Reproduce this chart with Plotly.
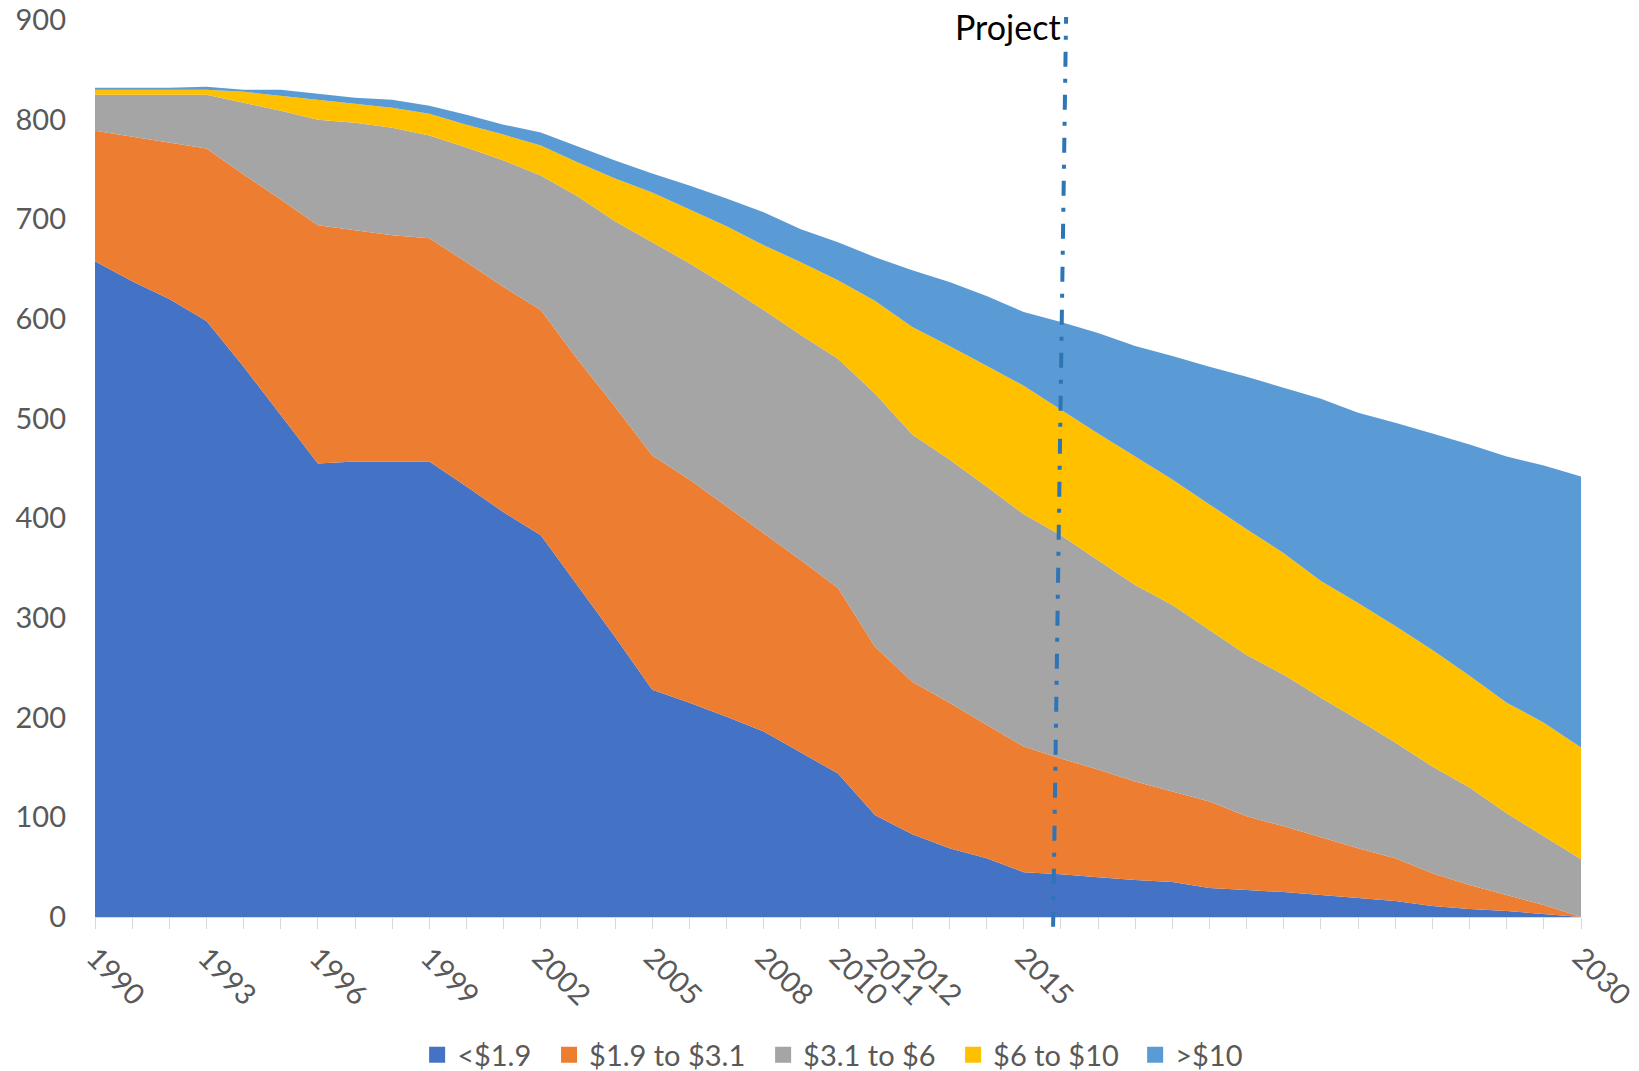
import plotly.graph_objects as go

years = [1990, 1991, 1992, 1993, 1994, 1995, 1996, 1997, 1998, 1999,
         2000, 2001, 2002, 2003, 2004, 2005, 2006, 2007, 2008, 2009,
         2010, 2011, 2012, 2013, 2014, 2015, 2016, 2017, 2018, 2019,
         2020, 2021, 2022, 2023, 2024, 2025, 2026, 2027, 2028, 2029, 2030]

tick_labels = ["1990", "", "", "1993", "", "", "1996", "", "", "1999",
               "", "", "2002", "", "", "2005", "", "", "2008", "",
               "2010", "2011", "2012", "", "", "2015", "", "", "", "",
               "", "", "", "", "", "", "", "", "", "", "2030"]

series_names = ["<$1.9", "$1.9 to $3.1", "$3.1 to $6", "$6 to $10", ">$10"]

below_1_9 = [658, 638, 620, 598, 552, 504, 455, 457, 457, 457,
             432, 406, 383, 332, 281, 228, 215, 201, 186, 165,
             144, 102, 83, 69, 59, 45, 43, 40, 37, 35,
             29, 27, 25, 22, 19, 16, 11, 8, 6, 3, 0]

from_1_9_to_3_1 = [131, 145, 157, 173, 193, 216, 239, 232, 227, 224,
                   225, 226, 226, 227, 231, 235, 224, 211, 199, 193,
                   186, 169, 153, 146, 134, 126, 116, 108, 99, 91,
                   87, 74, 66, 58, 50, 43, 33, 24, 16, 9, 0]

from_3_1_to_6 = [36, 42, 48, 54, 72, 89, 106, 108, 108, 103,
                 115, 127, 135, 164, 186, 214, 217, 221, 224, 226,
                 230, 254, 248, 244, 239, 233, 224, 210, 197, 187,
                 172, 162, 152, 140, 129, 116, 107, 98, 82, 69, 58]

from_6_to_10 = [5, 5, 5, 5, 11, 15, 20, 19, 20, 22,
                23, 26, 30, 34, 43, 50, 54, 60, 65, 73,
                79, 93, 108, 114, 121, 129, 126, 127, 129, 126,
                126, 126, 122, 117, 117, 117, 117, 112, 111, 114, 112]

above_10 = [2, 2, 2, 3, 2, 6, 6, 6, 8, 8,
            10, 10, 13, 16, 18, 19, 24, 28, 33, 33,
            38, 44, 57, 64, 70, 74, 88, 101, 111, 124,
            138, 153, 166, 183, 191, 204, 217, 232, 247, 258, 272]

colors = ["#4472C4", "#ED7D31", "#A5A5A5", "#FFC000", "#5B9BD5"]

y_ticks = [0, 100, 200, 300, 400, 500, 600, 700, 800, 900]

project_label = "Project"
project_year_bottom = 2015.79
project_year_top = 2016.14

# horizontal anchor (container fraction) for each legend entry
legend_x = [0.2545, 0.3350, 0.4656, 0.5815, 0.6926]

FONT = "Lato, 'Open Sans', sans-serif"
GREY_TXT = "#595959"

fig = go.Figure()

all_series = [below_1_9, from_1_9_to_3_1, from_3_1_to_6, from_6_to_10, above_10]
for name, vals, col in zip(series_names, all_series, colors):
    fig.add_trace(go.Scatter(
        x=years, y=vals, name=name, mode="lines",
        stackgroup="one", line=dict(width=0, color=col),
        fillcolor=col, showlegend=False, hoverinfo="x+y+name",
    ))

legend_ids = ["legend", "legend2", "legend3", "legend4", "legend5"]
for name, col, lid in zip(series_names, colors, legend_ids):
    fig.add_trace(go.Scatter(
        x=[None], y=[None], name=name, mode="markers",
        marker=dict(symbol="square", size=17, color=col),
        showlegend=True, legend=lid,
    ))

fig.add_shape(
    type="line", xref="x", yref="paper",
    x0=project_year_bottom, x1=project_year_top, y0=-0.0108, y1=1.0033,
    line=dict(color="#2E75B6", width=4, dash="15px,12px,4px,12px"),
    layer="above",
)

fig.add_annotation(
    x=project_year_top, y=893, xref="x", yref="y",
    text=project_label, showarrow=False,
    xanchor="right", yanchor="middle", xshift=-3,
    font=dict(family=FONT, size=34, color="#000000"),
)

legend_common = dict(
    orientation="h", xref="container", yref="container",
    xanchor="left", y=0.015, yanchor="middle",
    font=dict(family=FONT, size=29, color=GREY_TXT),
    itemclick=False, itemdoubleclick=False,
    bgcolor="rgba(0,0,0,0)", borderwidth=0,
)
legend_layout = {lid: dict(legend_common, x=lx) for lid, lx in zip(legend_ids, legend_x)}

fig.update_layout(
    width=1639, height=1071,
    margin=dict(l=95, r=58, t=20, b=154, autoexpand=False),
    paper_bgcolor="white", plot_bgcolor="white",
    font=dict(family=FONT, size=29, color=GREY_TXT),
    showlegend=True,
    xaxis=dict(
        range=[1990, 2030], tickmode="array",
        tickvals=years, ticktext=tick_labels,
        tickangle=45, ticks="outside", ticklen=11,
        tickcolor="#D9D9D9", tickwidth=1.3,
        showline=True, linecolor="#D9D9D9", linewidth=1.3,
        showgrid=False, zeroline=False, automargin=False,
        tickfont=dict(family=FONT, size=29, color=GREY_TXT),
    ),
    yaxis=dict(
        range=[0, 900], tickmode="array", tickvals=y_ticks,
        ticks="", showline=False, showgrid=False, zeroline=False,
        ticklabelstandoff=28, automargin=False,
        tickfont=dict(family=FONT, size=29, color=GREY_TXT),
    ),
    **legend_layout,
)

fig.write_html("out.html")
